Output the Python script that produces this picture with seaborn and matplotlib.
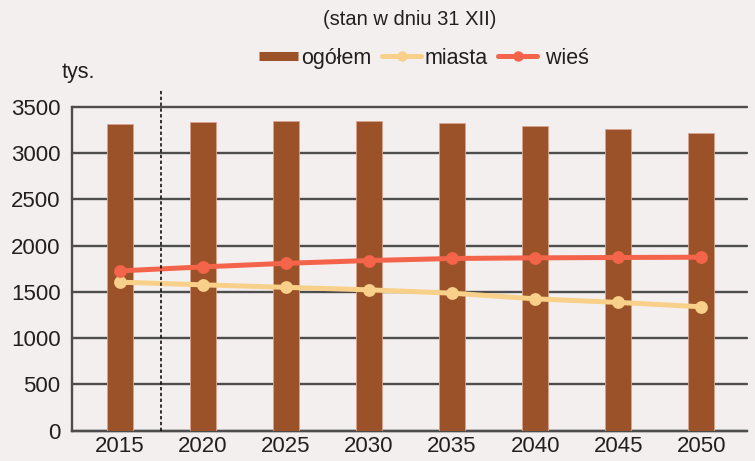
import numpy as np
import pandas as pd
import seaborn as sns
import matplotlib.pyplot as plt
from matplotlib.lines import Line2D
from matplotlib.ticker import FixedLocator, MultipleLocator

# =====================================
# DATA
# =====================================

years = ['2015', '2020', '2025', '2030', '2035', '2040', '2045', '2050']
ogolem = [3320, 3341, 3352, 3348, 3330, 3298, 3262, 3222]
miasta = [1606, 1577, 1550, 1523, 1487, 1426, 1387, 1340]
wies = [1728, 1771, 1810, 1840, 1862, 1869, 1873, 1876]

df = pd.DataFrame({
    'rok': years,
    'ogółem': ogolem,
    'miasta': miasta,
    'wieś': wies
})

# =====================================
# STYLE
# =====================================

bg = '#F3EFEE'
bar_color = '#9B5228'
miasta_color = '#F8D08A'
wies_color = '#F4644A'
grid_color = '#4D4D4D'
text_color = '#231F20'

sns.set_style('white')
plt.rcParams['font.family'] = ['Liberation Sans', 'DejaVu Sans']
plt.rcParams['text.color'] = text_color

fig = plt.figure(figsize=(7.55, 4.61), dpi=100, facecolor=bg)
ax = fig.add_axes([0.095, 0.0657, 0.8944, 0.7022])
ax.set_facecolor(bg)

# =====================================
# BARS + LINES
# =====================================

sns.barplot(
    data=df, x='rok', y='ogółem', color=bar_color, width=0.313,
    saturation=1, edgecolor='#D9A48E', linewidth=0.6, ax=ax, zorder=3
)

sns.pointplot(
    data=df, x='rok', y='miasta', color=miasta_color, errorbar=None,
    markers='o', markersize=6.5, linewidth=3.6, ax=ax
)
sns.pointplot(
    data=df, x='rok', y='wieś', color=wies_color, errorbar=None,
    markers='o', markersize=6.5, linewidth=3.6, ax=ax
)
for coll in ax.collections + ax.lines:
    coll.set_zorder(4)

# dashed separator between 2015 and 2020
ax.plot([0.5, 0.5], [0, 3680], color='black', lw=1.1, ls=(0, (2.2, 1.6)),
        clip_on=False, zorder=5)

# =====================================
# AXES
# =====================================

ax.set_xlim(-0.578, 7.55)
ax.set_ylim(0, 3500)
ax.yaxis.set_major_locator(MultipleLocator(500))
ax.grid(axis='y', color=grid_color, lw=1.7, zorder=0)
ax.set_axisbelow(True)
for gl in ax.get_ygridlines():
    gl.set_clip_on(False)

ax.set_xlabel('')
ax.set_ylabel('')

for side in ['top', 'right']:
    ax.spines[side].set_visible(False)
for side in ['left', 'bottom']:
    ax.spines[side].set_color(grid_color)
    ax.spines[side].set_linewidth(1.7)

ax.tick_params(axis='y', length=5, width=1.7, color=grid_color,
               labelsize=16, labelcolor=text_color, pad=3)
ax.tick_params(axis='x', which='major', length=0, labelsize=16,
               labelcolor=text_color, pad=4)
ax.xaxis.set_minor_locator(FixedLocator([-0.578] + [i + 0.5 for i in range(7)] + [7.55]))
ax.tick_params(axis='x', which='minor', length=7, width=1.7, color=grid_color)

# =====================================
# TEXTS + LEGEND
# =====================================

fig.text(0.543, 0.958, '(stan w dniu 31 XII)', fontsize=14.5,
         ha='center', va='center')
fig.text(0.082, 0.842, 'tys.', fontsize=15.5, ha='left', va='center')

handles = [
    Line2D([], [], color=bar_color, lw=6.5, solid_capstyle='butt'),
    Line2D([], [], color=miasta_color, lw=3.6, marker='o', markersize=6.5),
    Line2D([], [], color=wies_color, lw=3.6, marker='o', markersize=6.5),
]
fig.legend(
    handles, ['ogółem', 'miasta', ' wieś'], loc='center',
    bbox_to_anchor=(0.562, 0.874), ncol=3, frameon=False, fontsize=15.5,
    handlelength=1.8, handletextpad=0.15, columnspacing=0.5
)

fig.savefig('out.png', dpi=100, facecolor=bg)
